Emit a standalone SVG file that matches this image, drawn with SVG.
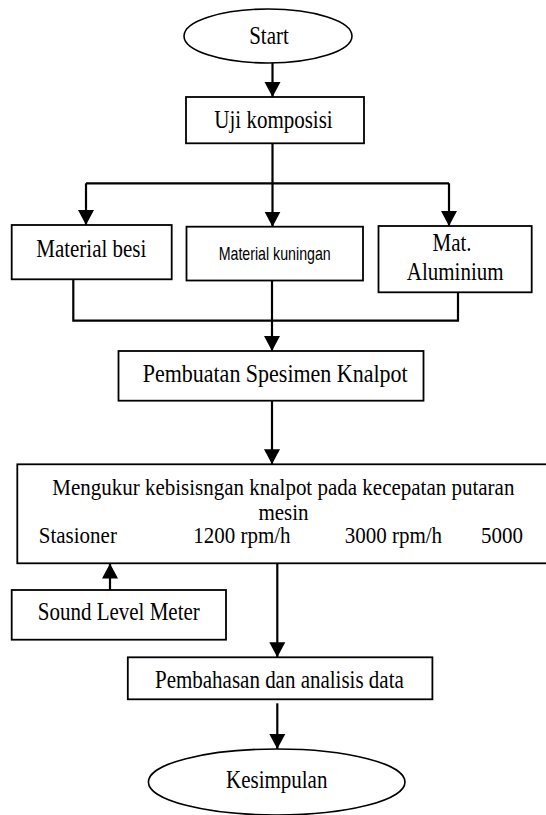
<svg xmlns="http://www.w3.org/2000/svg" width="546" height="815" viewBox="0 0 546 815">
<style>
  .box{fill:#fff;stroke:#000;stroke-width:1.8}
  .ell{fill:#fff;stroke:#000;stroke-width:1.6}
  .t{font-family:"Liberation Serif","Times New Roman",serif;font-size:21px;fill:#000}
  .s{font-family:"Liberation Sans",Arial,sans-serif;font-size:16.5px;fill:#000}
  .c{fill:none;stroke:#000;stroke-width:2.2}
</style>
<defs>
  <marker id="ah" markerUnits="userSpaceOnUse" markerWidth="18" markerHeight="18" viewBox="0 0 18 18" refX="15" refY="9" orient="auto">
    <path d="M0,1 L15,9 L0,17 Z" fill="#000"/>
  </marker>
</defs>
<rect width="546" height="815" fill="#fff"/>
<g id="connectors">
  <path class="c" d="M272.5,63 V97" marker-end="url(#ah)"/>
  <path class="c" d="M272.5,143.3 V183.3 M86,183.3 H449"/>
  <path class="c" d="M86,183.3 V225" marker-end="url(#ah)"/>
  <path class="c" d="M272.5,183.3 V226.7" marker-end="url(#ah)"/>
  <path class="c" d="M449,183.3 V226" marker-end="url(#ah)"/>
  <path class="c" d="M73.3,279.3 V320.7 H458 V292.3"/>
  <path class="c" d="M272,280.5 V351" marker-end="url(#ah)"/>
  <path class="c" d="M272,400.7 V464.3" marker-end="url(#ah)"/>
  <path class="c" d="M110,590 V563.5" marker-end="url(#ah)"/>
  <path class="c" d="M277.3,563.3 V657.3" marker-end="url(#ah)"/>
  <path class="c" d="M277.3,703.3 V749" marker-end="url(#ah)"/>
</g>
<g id="start">
  <ellipse class="ell" cx="268" cy="36" rx="84" ry="27"/>
  <text class="t" transform="translate(269,44) scale(1,1.15)" text-anchor="middle">Start</text>
</g>
<g id="uji-komposisi">
  <rect class="box" x="186" y="97" width="178" height="46.3"/>
  <text class="t" transform="translate(273.5,128) scale(1,1.15)" text-anchor="middle">Uji komposisi</text>
</g>
<g id="material-besi">
  <rect class="box" x="11.7" y="225" width="160" height="54.3"/>
  <text class="t" transform="translate(91.3,256.7) scale(1,1.15)" text-anchor="middle">Material besi</text>
</g>
<g id="material-kuningan">
  <rect class="box" x="186.5" y="226.7" width="176.5" height="53.8"/>
  <text class="s" transform="translate(218.7,260) scale(1,1.15)" textLength="112" lengthAdjust="spacingAndGlyphs">Material kuningan</text>
</g>
<g id="mat-aluminium">
  <rect class="box" x="378.5" y="226" width="153.2" height="66.3"/>
  <text class="t" transform="translate(452,251) scale(1,1.15)" text-anchor="middle">Mat.</text>
  <text class="t" transform="translate(455.2,280) scale(1,1.15)" text-anchor="middle">Aluminium</text>
</g>
<g id="pembuatan-spesimen">
  <rect class="box" x="118.5" y="351" width="305" height="49.7"/>
  <text class="t" transform="translate(142.7,381.7) scale(1,1.15)" style="font-size:22px">Pembuatan Spesimen Knalpot</text>
</g>
<g id="mengukur-kebisingan">
  <rect class="box" x="17.3" y="464.3" width="533" height="99"/>
  <text class="t" transform="translate(283.3,494.5) scale(1,1.08)" text-anchor="middle">Mengukur kebisisngan knalpot pada kecepatan putaran</text>
  <text class="t" transform="translate(283.5,519.5) scale(1,1.08)" text-anchor="middle">mesin</text>
  <text class="t" transform="translate(38.8,542.5) scale(1,1.12)">Stasioner</text>
  <text class="t" transform="translate(193.2,542.5) scale(1,1.12)">1200 rpm/h</text>
  <text class="t" transform="translate(344.7,542.5) scale(1,1.12)">3000 rpm/h</text>
  <text class="t" transform="translate(481,542.5) scale(1,1.12)">5000</text>
</g>
<g id="sound-level-meter">
  <rect class="box" x="11.7" y="590" width="214.3" height="49.7"/>
  <text class="t" transform="translate(118.8,620) scale(1,1.15)" text-anchor="middle">Sound Level Meter</text>
</g>
<g id="pembahasan">
  <rect class="box" x="127.8" y="657.3" width="304.6" height="42"/>
  <text class="t" transform="translate(279.4,688.3) scale(1,1.15)" text-anchor="middle">Pembahasan dan analisis data</text>
</g>
<g id="kesimpulan">
  <ellipse class="ell" cx="276.7" cy="782" rx="128.3" ry="33"/>
  <text class="t" transform="translate(276.7,788.3) scale(1,1.15)" text-anchor="middle">Kesimpulan</text>
</g>
</svg>
